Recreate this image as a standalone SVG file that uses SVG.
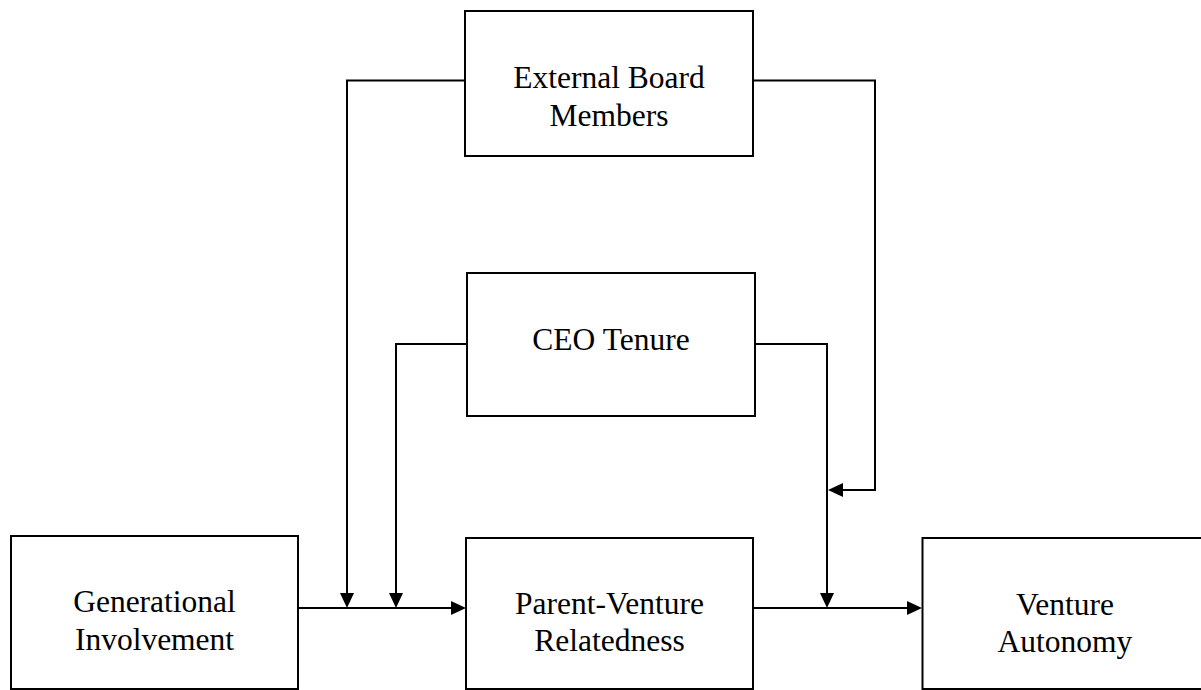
<svg xmlns="http://www.w3.org/2000/svg" width="1201" height="690" viewBox="0 0 1201 690">
<style>
.box{fill:#fff;stroke:#000;stroke-width:2}
.lbl{font-family:"Liberation Serif","Times New Roman",serif;font-size:31.5px;fill:#000;text-anchor:middle}
.con{fill:none;stroke:#000;stroke-width:2}
</style>
<defs>
<marker id="arr" viewBox="0 0 15 14" markerWidth="15" markerHeight="14" refX="11" refY="7" orient="auto" markerUnits="userSpaceOnUse">
<path d="M0,0 L15,7 L0,14 z" fill="#000"/>
</marker>
</defs>
<rect width="1201" height="690" fill="#fff"/>
<g id="connectors">
<path class="con" d="M465,80.5 H347 V604" marker-end="url(#arr)"/>
<path class="con" d="M467,344 H396 V604" marker-end="url(#arr)"/>
<path class="con" d="M298,608 H462" marker-end="url(#arr)"/>
<path class="con" d="M753,80.5 H875 V490 H832" marker-end="url(#arr)"/>
<path class="con" d="M755,344 H827 V604" marker-end="url(#arr)"/>
<path class="con" d="M751,608 H918" marker-end="url(#arr)"/>
</g>
<g id="external-board">
<rect class="box" x="465" y="11" width="288" height="145"/>
<text class="lbl" x="609" y="88">External Board</text>
<text class="lbl" x="609" y="126">Members</text>
</g>
<g id="ceo-tenure">
<rect class="box" x="467" y="273" width="288" height="143"/>
<text class="lbl" x="611" y="350">CEO Tenure</text>
</g>
<g id="generational">
<rect class="box" x="11" y="536" width="287" height="153"/>
<text class="lbl" x="154.5" y="612">Generational</text>
<text class="lbl" x="154.5" y="650">Involvement</text>
</g>
<g id="parent-venture">
<rect class="box" x="466" y="538" width="287" height="151"/>
<text class="lbl" x="609.5" y="614">Parent-Venture</text>
<text class="lbl" x="609.5" y="651">Relatedness</text>
</g>
<g id="venture-autonomy">
<rect class="box" x="922.5" y="538" width="280" height="151"/>
<text class="lbl" x="1065" y="615">Venture</text>
<text class="lbl" x="1065" y="652">Autonomy</text>
</g>
</svg>
